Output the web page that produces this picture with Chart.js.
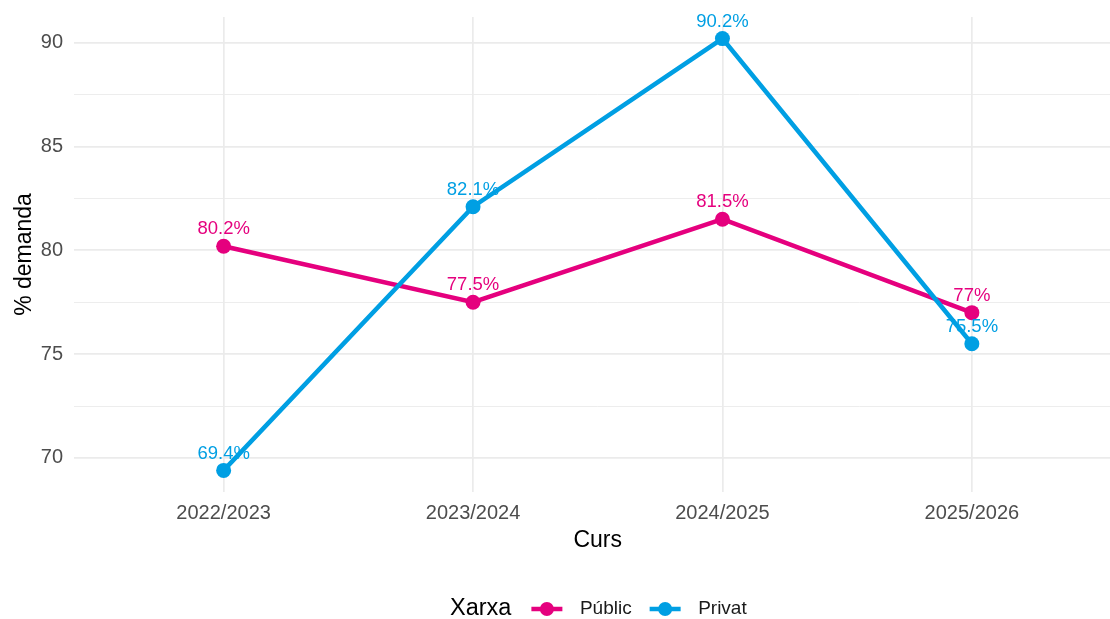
<!DOCTYPE html>
<html>
<head>
<meta charset="utf-8">
<script src="https://cdn.jsdelivr.net/npm/chart.js@4.4.1/dist/chart.umd.min.js"></script>
<style>
  html, body { margin: 0; padding: 0; background: #ffffff; overflow: hidden; width: 1110px; height: 619px; }
  #wrap { width: 1200px; height: 619px; position: relative; }
</style>
</head>
<body>
<div id="wrap"><canvas id="c" width="1121" height="619" style="width:1121px;height:619px;display:block"></canvas></div>
<script>
// ---- data ----
const categories = ["2022/2023", "2023/2024", "2024/2025", "2025/2026"];
const publicValues = [80.2, 77.5, 81.5, 77];
const privatValues = [69.4, 82.1, 90.2, 75.5];
const seriesNames = ["Públic", "Privat"];
const yTickLabels = [70, 75, 80, 85, 90];
const legendTitle = "Xarxa";
const xTitle = "Curs";
const yTitle = "% demanda";

const PINK = "#E5007E";
const BLUE = "#009FE3";
const FONT = "'Liberation Sans', Arial, sans-serif";
const PANEL_RIGHT = 1121; // panel continues past the photographed edge

const toPoints = arr => arr.map((v, i) => ({ x: i, y: v }));

// minor gridlines halfway between major ticks
const yGridValues = [];
yTickLabels.forEach((v, i) => {
  yGridValues.push(v);
  if (i < yTickLabels.length - 1) yGridValues.push((v + yTickLabels[i + 1]) / 2);
});

const pointLabels = {
  id: "pointLabels",
  afterDatasetsDraw(chart) {
    const ctx = chart.ctx;
    ctx.save();
    ctx.font = "18.5px " + FONT;
    ctx.textAlign = "center";
    ctx.textBaseline = "middle";
    chart.data.datasets.forEach((ds, di) => {
      const meta = chart.getDatasetMeta(di);
      meta.data.forEach((pt, i) => {
        ctx.fillStyle = ds.borderColor;
        ctx.fillText(String(ds.data[i].y) + "%", pt.x, pt.y - 17);
      });
    });
    ctx.restore();
  }
};

const bottomLegend = {
  id: "bottomLegend",
  afterDraw(chart) {
    const ctx = chart.ctx;
    const cy = 609;
    ctx.save();
    ctx.textBaseline = "middle";
    ctx.textAlign = "left";
    ctx.fillStyle = "#000000";
    ctx.font = "23.5px " + FONT;
    let x = 450;
    ctx.fillText(legendTitle, x, cy);
    x += ctx.measureText(legendTitle).width + 20;
    chart.data.datasets.forEach((ds) => {
      ctx.strokeStyle = ds.borderColor;
      ctx.lineWidth = 4.5;
      ctx.beginPath();
      ctx.moveTo(x, cy);
      ctx.lineTo(x + 31, cy);
      ctx.stroke();
      ctx.fillStyle = ds.borderColor;
      ctx.beginPath();
      ctx.arc(x + 15.5, cy, 7, 0, Math.PI * 2);
      ctx.fill();
      x += 31 + 17.5;
      ctx.fillStyle = "#1a1a1a";
      ctx.font = "19px " + FONT;
      ctx.fillText(ds.label, x, cy);
      x += ctx.measureText(ds.label).width + 18;
    });
    ctx.restore();
  }
};

const canvas = document.getElementById("c");
const chart = new Chart(canvas, {
  type: "line",
  data: {
    datasets: [
      {
        label: seriesNames[0],
        data: toPoints(publicValues),
        borderColor: PINK,
        backgroundColor: PINK,
        borderWidth: 4.5,
        pointRadius: 7.5,
        pointHoverRadius: 7.5,
        pointBorderWidth: 0,
        tension: 0,
        order: 1
      },
      {
        label: seriesNames[1],
        data: toPoints(privatValues),
        borderColor: BLUE,
        backgroundColor: BLUE,
        borderWidth: 4.5,
        pointRadius: 7.5,
        pointHoverRadius: 7.5,
        pointBorderWidth: 0,
        tension: 0,
        order: 0
      }
    ]
  },
  options: {
    responsive: false,
    maintainAspectRatio: false,
    devicePixelRatio: 1,
    animation: false,
    events: [],
    layout: { padding: { top: 17, right: 0, bottom: 55, left: 0 } },
    plugins: {
      legend: { display: false },
      tooltip: { enabled: false }
    },
    scales: {
      x: {
        type: "linear",
        min: -0.6,
        max: 3.6,
        afterBuildTicks: s => { s.ticks = categories.map((c, i) => ({ value: i })); },
        afterFit: s => { s.height = 72; s.paddingLeft = 0; s.paddingRight = 0; },
        border: { display: false },
        grid: { color: "#EBEBEB", lineWidth: 1.7, drawTicks: false },
        ticks: {
          padding: 9,
          color: "#4D4D4D",
          font: { family: FONT, size: 20 },
          maxRotation: 0,
          autoSkip: false,
          callback: v => categories[v]
        },
        title: {
          display: true,
          text: xTitle,
          color: "#000000",
          font: { family: FONT, size: 23 },
          padding: { top: 0, bottom: 10 }
        }
      },
      y: {
        type: "linear",
        min: 68.36,
        max: 91.24,
        afterBuildTicks: s => { s.ticks = yGridValues.map(v => ({ value: v })); },
        afterFit: s => { s.width = 74; s.paddingTop = 0; s.paddingBottom = 0; },
        border: { display: false },
        grid: {
          color: "#EBEBEB",
          lineWidth: c => (yTickLabels.includes(c.tick.value) ? 1.7 : 0.9),
          drawTicks: false
        },
        ticks: {
          padding: 11,
          color: "#4D4D4D",
          font: { family: FONT, size: 20 },
          autoSkip: false,
          callback: v => (yTickLabels.includes(v) ? String(v) : "")
        },
        title: {
          display: true,
          text: yTitle,
          color: "#000000",
          font: { family: FONT, size: 23 },
          padding: { top: 11, bottom: 0 }
        }
      }
    }
  },
  plugins: [pointLabels, bottomLegend]
});

// widen the canvas so that the plot panel ends where the reference's does
const deficit = PANEL_RIGHT - chart.chartArea.right;
if (Math.abs(deficit) > 0.5) {
  const w = Math.round(chart.width + deficit);
  canvas.style.width = w + "px";
  chart.resize(w, 619);
}
</script>
</body>
</html>
